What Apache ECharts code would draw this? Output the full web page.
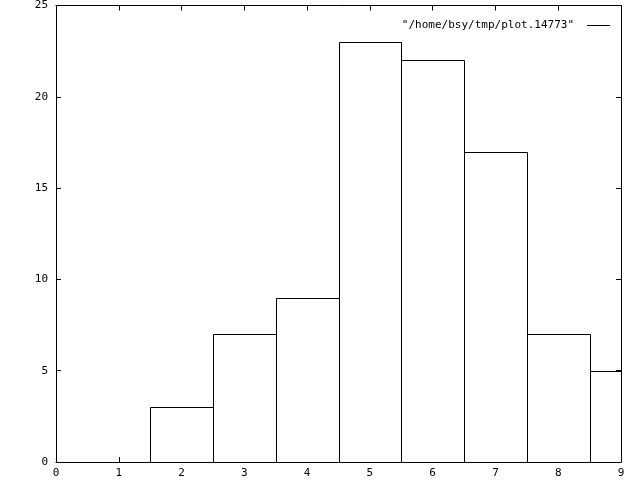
<!DOCTYPE html>
<html>
<head>
<meta charset="utf-8">
<script src="https://cdn.jsdelivr.net/npm/echarts@6/dist/echarts.min.js"></script>
<style>html,body{margin:0;padding:0;background:#fff;}#c{width:640px;height:480px;}</style>
</head>
<body>
<div id="c"></div>
<script>
const binCenters = [2, 3, 4, 5, 6, 7, 8, 9];
const counts = [3, 7, 9, 23, 22, 17, 7, 5];
const seriesName = '"/home/bsy/tmp/plot.14773"';
const xMin = 0, xMax = 9, xStep = 1;
const yMin = 0, yMax = 25, yStep = 5;

const font = 'DejaVu Sans Mono';
const chart = echarts.init(document.getElementById('c'), null, {renderer: 'canvas'});
const data = binCenters.map((x, i) => [x, counts[i]]);

function axisCommon() {
  return {
    type: 'value',
    axisLine: {show: true, onZero: false, lineStyle: {color: '#000', width: 1}},
    axisTick: {show: true, inside: true, length: 5, lineStyle: {color: '#000', width: 1}},
    splitLine: {show: false}
  };
}

chart.setOption({
  animation: false,
  backgroundColor: '#fff',
  grid: {left: 56, right: 19, top: 5, bottom: 18, containLabel: false},
  legend: {
    right: 25, top: 15,
    align: 'right',
    icon: 'rect',
    itemWidth: 23, itemHeight: 1,
    textStyle: {fontFamily: font, fontSize: 11, color: '#000', padding: [0, 8, 0, 0]},
    data: [{name: seriesName, itemStyle: {color: '#000'}}]
  },
  xAxis: [
    Object.assign(axisCommon(), {
      position: 'bottom', min: xMin, max: xMax, interval: xStep,
      axisLabel: {color: '#000', fontFamily: font, fontSize: 11, margin: 6}
    }),
    Object.assign(axisCommon(), {
      position: 'top', min: xMin, max: xMax, interval: xStep,
      axisLabel: {show: false}
    })
  ],
  yAxis: [
    Object.assign(axisCommon(), {
      position: 'left', min: yMin, max: yMax, interval: yStep,
      axisLabel: {color: '#000', fontFamily: font, fontSize: 11, margin: 8}
    }),
    Object.assign(axisCommon(), {
      position: 'right', min: yMin, max: yMax, interval: yStep,
      axisLabel: {show: false}
    })
  ],
  series: [{
    name: seriesName,
    type: 'custom',
    xAxisIndex: 0, yAxisIndex: 0,
    itemStyle: {color: '#000'},
    clip: true,
    data: data,
    renderItem: function (params, api) {
      const x = api.value(0), y = api.value(1);
      const p0 = api.coord([x - 0.5, y]);
      const p1 = api.coord([x + 0.5, 0]);
      const rect = echarts.graphic.clipRectByRect({
        x: p0[0], y: p0[1], width: p1[0] - p0[0], height: p1[1] - p0[1]
      }, {
        x: params.coordSys.x, y: params.coordSys.y,
        width: params.coordSys.width, height: params.coordSys.height
      });
      if (!rect) return null;
      const x0 = Math.round(rect.x) + 0.5, y0 = Math.round(rect.y) + 0.5;
      const x1 = Math.round(rect.x + rect.width) + 0.5, y1 = Math.round(rect.y + rect.height) + 0.5;
      return {
        type: 'rect',
        shape: {x: x0, y: y0, width: x1 - x0, height: y1 - y0},
        style: {fill: '#fff', stroke: '#000', lineWidth: 1}
      };
    }
  }]
});
</script>
</body>
</html>
